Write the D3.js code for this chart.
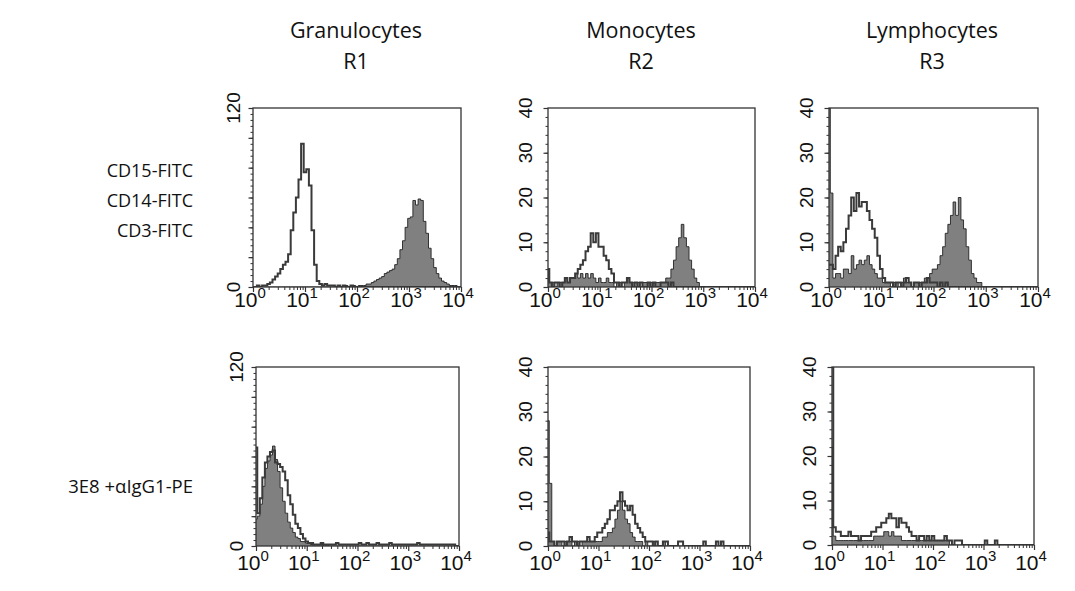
<!DOCTYPE html>
<html><head><meta charset="utf-8">
<script src="https://cdn.jsdelivr.net/npm/d3@7"></script>
<style>body{margin:0;background:#fff} svg{display:block}</style>
</head><body>
<svg id="c" width="1075" height="591"></svg>
<script>
// ---- data ----
const binStep = 0.05;                 // decades per histogram channel
const xExponents = ["0","1","2","3","4"];
const columnTitles = ["Granulocytes","Monocytes","Lymphocytes"];
const gateLabels = ["R1","R2","R3"];
const rowLabelsTop = ["CD15-FITC","CD14-FITC","CD3-FITC"];
const rowLabelBottom = "3E8 +\u03b1IgG1-PE";
const yMaxGran = 120, yMaxOther = 40;
const yTicksGran = [0,120];
const yTicksOther = [0,10,20,30,40];

// top row (open = control, fill = stained)
const granOpen = [0,0,1,0,1,1,2,3,5,7, 9,12,15,17,22,38,50,60,72,96, 77,79,68,38,15,4,2,1,2,1, 1,1,0,1,0,1,0,0,1,0, 0,0,0,0,0,0,0,0,0,0, 0,0,0,0,0,0,0,0,0,0, 0,0,0,0,0,0,0,0,0,0, 0,0,0,0,0,0,0,0,0,0,0];
const granFill = [0,0,0,0,0,0,0,0,0,0, 0,0,0,0,0,0,0,0,0,0, 0,0,0,0,0,0,0,0,0,0, 0,0,0,0,0,0,1,0,1,1, 0,1,1,1,2,2,3,4,5,6, 7,9,10,11,12,15,19,25,31,40, 46,47,58,55,59,58,44,36,26,19, 13,9,6,4,3,2,1,1,1,0,0];
const monoOpen = [4,1,0,1,1,0,1,2,1,2, 2,3,4,5,6,8,9,12,10,12, 9,9,7,6,4,3,1,1,0,1, 1,2,1,0,1,0,1,0,0,1, 0,1,0,0,1,1,1,0,1,0, 0,0,0,0,0,0,0,0,0,0, 0,0,0,0,0,0,0,0,0,0, 0,0,0,0,0,0,0,0,0,0,0];
const monoFill = [4,1,1,0,1,1,1,2,1,2, 2,3,2,3,2,3,2,3,2,1, 2,1,1,2,1,1,0,1,1,0, 1,2,1,1,0,1,0,1,1,1, 1,1,1,1,1,1,2,2,4,6, 9,11,14,11,9,6,4,2,1,0, 0,0,0,0,0,0,0,0,0,0, 0,0,0,0,0,0,0,0,0,0,0];
const lymphOpen = [5,5,4,7,9,8,10,13,16,20, 17,21,18,19,19,17,15,13,11,7, 4,2,1,1,1,0,1,1,0,1, 2,1,0,1,1,0,1,1,2,1, 1,1,0,1,0,1,0,0,0,0, 0,0,0,0,0,0,0,0,0,0, 0,0,0,0,0,0,0,0,0,0, 0,0,0,0,0,0,0,0,0,0,0];
const lymphFill = [40,21,2,3,3,2,4,4,3,7, 4,5,6,5,6,7,5,4,3,2, 2,1,1,1,0,1,1,0,1,2, 1,1,0,1,1,1,1,2,2,3, 4,4,5,7,9,12,14,16,19,16, 20,15,13,9,6,3,2,1,1,0, 0,0,0,0,0,0,0,0,0,0, 0,0,0,0,0,0,0,0,0,0,0];
// bottom row
const gran2Open = [66,22,32,46,56,60,63,64,56,55, 53,50,44,34,28,21,15,12,8,5, 3,2,2,1,1,1,2,1,1,1, 1,1,2,1,1,1,1,1,1,1, 1,2,1,1,2,1,1,1,2,1, 1,1,1,2,1,1,1,1,1,1, 1,1,1,1,2,1,1,1,1,1, 1,1,1,1,1,1,1,1,1,0,0];
const gran2Fill = [18,20,28,40,52,57,61,67,58,50, 39,30,22,16,12,9,6,5,3,3, 2,2,1,1,1,1,1,0,1,0, 0,0,0,0,0,0,0,0,0,0, 0,0,0,0,0,0,0,0,0,0, 0,0,0,0,0,0,0,0,0,0, 0,0,0,0,0,0,0,0,0,0, 0,0,0,0,0,0,0,0,0,0,0];
const mono2Open = [3,1,1,0,1,1,1,0,1,2, 1,1,0,1,1,1,2,1,1,2, 3,3,4,5,6,8,8,9,10,12, 10,9,8,9,7,5,4,3,2,1, 1,1,0,1,0,0,1,1,0,0, 0,0,1,1,0,0,0,0,0,0, 0,0,1,0,0,0,0,1,0,1, 0,0,0,0,0,0,0,0,0,0,0];
const mono2Fill = [28,14,1,0,1,1,0,1,1,1, 0,1,1,0,1,1,1,1,1,1, 1,1,2,2,3,3,4,6,8,10, 8,6,5,3,2,1,1,1,0,1, 0,0,1,0,0,0,1,0,0,0, 0,0,0,0,0,0,0,0,0,0, 0,0,0,0,0,0,0,0,0,0, 0,0,0,0,0,0,0,0,0,0,0];
const lymph2Open = [40,4,3,3,2,2,2,3,2,2, 2,1,2,2,2,2,3,3,4,4, 5,5,6,7,6,6,4,6,5,5, 4,3,2,2,1,2,2,1,2,1, 2,1,1,1,1,2,1,1,0,1, 1,1,0,0,0,0,0,0,0,0, 0,1,0,0,0,1,0,0,0,0, 0,0,0,0,0,0,0,0,0,0,0];
const lymph2Fill = [22,2,1,1,1,1,1,1,1,1, 1,1,1,1,1,1,1,2,2,2, 2,3,3,2,3,2,2,2,1,1, 1,1,1,1,1,1,1,1,1,1, 1,1,1,1,1,1,1,0,0,0, 0,0,0,0,0,0,0,0,0,0, 0,0,0,0,0,0,0,0,0,0, 0,0,0,0,0,0,0,0,0,0,0];

// ---- layout ----
const panels = [
  {open:granOpen,  fill:granFill,  yMax:yMaxGran,  yTicks:yTicksGran,  minor:4, major:20, x0:253,x1:461,y0:108,y1:287, gap:12.7, xlab:20},
  {open:monoOpen,  fill:monoFill,  yMax:yMaxOther, yTicks:yTicksOther, minor:2, major:10, x0:548,x1:755,y0:108,y1:287, gap:16, xlab:20},
  {open:lymphOpen, fill:lymphFill, yMax:yMaxOther, yTicks:yTicksOther, minor:2, major:10, x0:829,x1:1038,y0:108,y1:287, gap:16, xlab:20},
  {open:gran2Open, fill:gran2Fill, yMax:yMaxGran,  yTicks:yTicksGran,  minor:4, major:20, x0:256,x1:459,y0:367,y1:546, gap:12.7, xlab:24},
  {open:mono2Open, fill:mono2Fill, yMax:yMaxOther, yTicks:yTicksOther, minor:2, major:10, x0:548,x1:750,y0:367,y1:546, gap:16, xlab:24},
  {open:lymph2Open,fill:lymph2Fill,yMax:yMaxOther, yTicks:yTicksOther, minor:2, major:10, x0:832,x1:1034,y0:367,y1:545, gap:16, xlab:25}
];

const svg = d3.select("#c");
const LINE = "#3a3a3a", FILL = "#808080";
const axisFont = "'Liberation Sans', Arial, sans-serif";
const textFont = "'Open Sans', 'Noto Sans', sans-serif";

panels.forEach((p, k) => {
  const x = d3.scaleLog().domain([1, 1e4]).range([p.x0, p.x1]);
  const y = d3.scaleLinear().domain([0, p.yMax]).range([p.y1, p.y0]);
  const g = svg.append("g");
  const clipId = "clip" + k;
  svg.append("clipPath").attr("id", clipId).append("rect")
    .attr("x", p.x0).attr("y", p.y0).attr("width", p.x1 - p.x0).attr("height", p.y1 - p.y0);

  const pts = arr => arr.map((v, i) => [Math.pow(10, i * binStep), v]);
  const area = d3.area().curve(d3.curveStep).x(d => x(d[0])).y0(y(0)).y1(d => y(d[1]));
  const line = d3.line().curve(d3.curveStep).x(d => x(d[0])).y(d => y(d[1]));

  const plot = g.append("g").attr("clip-path", `url(#${clipId})`);
  plot.append("path").datum(pts(p.fill)).attr("d", area).attr("fill", FILL).attr("stroke", "none");
  plot.append("path").datum(pts(p.fill)).attr("d", line).attr("fill", "none").attr("stroke", "#222").attr("stroke-width", 0.9);
  plot.append("path").datum(pts(p.open)).attr("d", line).attr("fill", "none").attr("stroke", LINE).attr("stroke-width", 2);

  // frame
  g.append("rect").attr("x", p.x0).attr("y", p.y0).attr("width", p.x1 - p.x0).attr("height", p.y1 - p.y0)
    .attr("fill", "none").attr("stroke", "#333").attr("stroke-width", 1.3);

  // x ticks (log, minor + major)
  const xt = x.ticks();
  const isMajor = v => Math.abs(Math.log10(v) - Math.round(Math.log10(v))) < 1e-9;
  g.append("g").attr("transform", `translate(0,${p.y1})`)
    .call(d3.axisBottom(x).tickValues(xt.filter(v => !isMajor(v))).tickSize(3).tickFormat("").tickSizeOuter(0))
    .call(s => s.select(".domain").remove())
    .call(s => s.selectAll("line").attr("stroke", "#333"));
  g.append("g").attr("transform", `translate(0,${p.y1})`)
    .call(d3.axisBottom(x).tickValues(xt.filter(isMajor)).tickSize(5).tickFormat("").tickSizeOuter(0))
    .call(s => s.select(".domain").remove())
    .call(s => s.selectAll("line").attr("stroke", "#333").attr("stroke-width", 1.2));

  // y ticks
  const yMinor = d3.range(0, p.yMax + 0.001, p.minor);
  const yMajor = d3.range(0, p.yMax + 0.001, p.major);
  g.append("g").attr("transform", `translate(${p.x0},0)`)
    .call(d3.axisLeft(y).tickValues(yMinor).tickSize(2.5).tickFormat("").tickSizeOuter(0))
    .call(s => s.select(".domain").remove())
    .call(s => s.selectAll("line").attr("stroke", "#333"));
  g.append("g").attr("transform", `translate(${p.x0},0)`)
    .call(d3.axisLeft(y).tickValues(yMajor).tickSize(4.5).tickFormat("").tickSizeOuter(0))
    .call(s => s.select(".domain").remove())
    .call(s => s.selectAll("line").attr("stroke", "#333").attr("stroke-width", 1.2));

  // y labels (rotated)
  p.yTicks.forEach(v => {
    const lx = p.x0 - p.gap, ly = y(v);
    g.append("text").attr("x", lx).attr("y", ly)
      .attr("transform", `rotate(-90,${lx},${ly})`)
      .attr("text-anchor", "middle").attr("font-family", axisFont).attr("font-size", 19)
      .attr("fill", "#111").text(v);
  });

  // x labels 10^n
  xExponents.forEach(e => {
    const t = g.append("text").attr("x", x(Math.pow(10, +e)) - 3).attr("y", p.y1 + p.xlab)
      .attr("text-anchor", "middle").attr("font-family", axisFont).attr("font-size", 21).attr("fill", "#111");
    t.append("tspan").text("10");
    t.append("tspan").attr("font-size", 15).attr("dy", -9).text(e);
  });
});

// column titles
const titleX = [356, 641, 932];
columnTitles.forEach((t, i) => {
  svg.append("text").attr("x", titleX[i]).attr("y", 38).attr("text-anchor", "middle")
    .attr("font-family", textFont).attr("font-size", 21.5).attr("fill", "#111").text(t);
  svg.append("text").attr("x", titleX[i]).attr("y", 69).attr("text-anchor", "middle")
    .attr("font-family", textFont).attr("font-size", 21.5).attr("fill", "#111").text(gateLabels[i]);
});

// row labels
rowLabelsTop.forEach((t, i) => {
  svg.append("text").attr("x", 193).attr("y", 177 + i * 30).attr("text-anchor", "end")
    .attr("font-family", textFont).attr("font-size", 18).attr("fill", "#111").text(t);
});
svg.append("text").attr("x", 193).attr("y", 493).attr("text-anchor", "end")
  .attr("font-family", textFont).attr("font-size", 18.5).attr("fill", "#111").text(rowLabelBottom);
</script>
</body></html>
